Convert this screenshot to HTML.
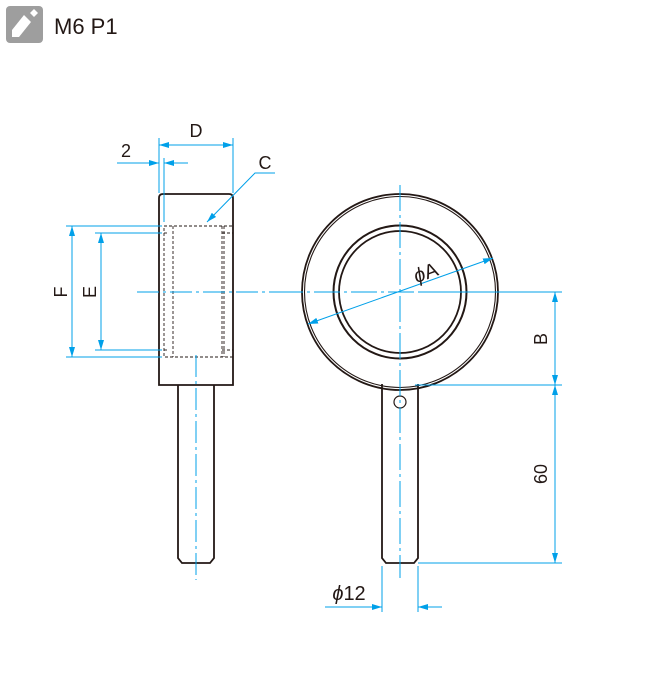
<!DOCTYPE html>
<html><head><meta charset="utf-8"><style>
html,body{margin:0;padding:0;background:#fff;}
svg{display:block;}
text{font-family:"Liberation Sans",sans-serif;fill:#231815;}
</style></head><body>
<svg width="650" height="700" viewBox="0 0 650 700" xmlns="http://www.w3.org/2000/svg">
<defs>
<marker id="ar" viewBox="0 0 10 6" refX="10" refY="3" markerWidth="10" markerHeight="6" orient="auto-start-reverse" markerUnits="userSpaceOnUse">
<path d="M0,0 L10,3 L0,6 z" fill="#00a0e9"/></marker>
</defs>
<rect x="6" y="6" width="37" height="37" rx="4" fill="#9e9e9e"/>
<path d="M12,30 L24,15 L31,22 L19,37 L12,37 Z" fill="#fff"/>
<path d="M30,13 L34,9 L38,13 L34,17 Z" fill="#fff"/>
<text x="54" y="34" font-size="22">M6 P1</text>

<g stroke="#231815" fill="none" stroke-width="1.8">
<path d="M159,385 L159,198 Q159,194 163,194 L229,194 Q233,194 233,198 L233,385 Z"/>
<path d="M178,385 L178,558 L182,563 L210,563 L214,558 L214,385"/>
<circle cx="400" cy="292" r="98"/>
<circle cx="400" cy="292" r="95.5" stroke-width="1.1"/>
<circle cx="400" cy="292" r="66.5" stroke-width="2"/>
<circle cx="400" cy="292" r="61"/>
<path d="M382,384 L382,558 L386,563 L414,563 L418,558 L418,384"/>
<circle cx="400" cy="402" r="6" stroke-width="1.2"/>
</g>
<g stroke="#231815" stroke-width="0.9" fill="none" stroke-dasharray="3,2">
<rect x="164" y="226" width="69" height="131"/>
<line x1="173" y1="226" x2="173" y2="357"/>
<line x1="222" y1="226" x2="222" y2="357"/>
<line x1="224" y1="226" x2="224" y2="357"/>
<line x1="164" y1="233" x2="168" y2="233"/>
<line x1="164" y1="350" x2="168" y2="350"/>
<line x1="222" y1="233" x2="233" y2="233"/>
<line x1="222" y1="350" x2="233" y2="350"/>
</g>
<g stroke="#00a0e9" stroke-width="1" fill="none">
<line x1="137" y1="292" x2="292" y2="292" stroke-dasharray="22,4,3,4"/>
<line x1="196" y1="355" x2="196" y2="580" stroke-dasharray="22,4,3,4"/>
<line x1="277" y1="292" x2="530" y2="292" stroke-dasharray="26,4,3,4"/>
<line x1="400" y1="185" x2="400" y2="578" stroke-dasharray="26,4,3,4"/>
<line x1="159" y1="138" x2="159" y2="193"/>
<line x1="233" y1="138" x2="233" y2="193"/>
<line x1="159" y1="145" x2="233" y2="145" marker-start="url(#ar)" marker-end="url(#ar)"/>
<line x1="164" y1="158" x2="164" y2="222"/>
<line x1="117" y1="163" x2="159" y2="163" marker-end="url(#ar)"/>
<line x1="188" y1="163" x2="164" y2="163" marker-end="url(#ar)"/>
<polyline points="275,173 255,173 207,222" marker-end="url(#ar)"/>
<line x1="66" y1="226" x2="162" y2="226"/>
<line x1="66" y1="357" x2="162" y2="357"/>
<line x1="95" y1="233" x2="162" y2="233"/>
<line x1="95" y1="350" x2="162" y2="350"/>
<line x1="72" y1="226" x2="72" y2="357" marker-start="url(#ar)" marker-end="url(#ar)"/>
<line x1="101" y1="233" x2="101" y2="350" marker-start="url(#ar)" marker-end="url(#ar)"/>
<line x1="308" y1="324" x2="493" y2="258" marker-start="url(#ar)" marker-end="url(#ar)"/>
<line x1="420" y1="292" x2="562" y2="292"/>
<line x1="415" y1="385" x2="562" y2="385"/>
<line x1="418" y1="563" x2="562" y2="563"/>
<line x1="555" y1="292" x2="555" y2="385" marker-start="url(#ar)" marker-end="url(#ar)"/>
<line x1="555" y1="385" x2="555" y2="563" marker-start="url(#ar)" marker-end="url(#ar)"/>
<line x1="382" y1="566" x2="382" y2="612"/>
<line x1="418" y1="566" x2="418" y2="612"/>
<line x1="325" y1="607" x2="382" y2="607" marker-end="url(#ar)"/>
<line x1="442" y1="607" x2="418" y2="607" marker-end="url(#ar)"/>
</g>
<g font-size="18">
<text x="196" y="137" text-anchor="middle">D</text>
<text x="126" y="157" text-anchor="middle">2</text>
<text x="265" y="169" text-anchor="middle">C</text>
<text transform="translate(67,292) rotate(-90)" text-anchor="middle">F</text>
<text transform="translate(96,292) rotate(-90)" text-anchor="middle">E</text>
<text transform="translate(428,279) rotate(-20)" text-anchor="middle" font-size="20"><tspan font-style="italic">ϕ</tspan>A</text>
<text transform="translate(547,339) rotate(-90)" text-anchor="middle">B</text>
<text transform="translate(547,474) rotate(-90)" text-anchor="middle">60</text>
<text x="349" y="600" text-anchor="middle" font-size="20"><tspan font-style="italic">ϕ</tspan>12</text>
</g>
</svg>
</body></html>
